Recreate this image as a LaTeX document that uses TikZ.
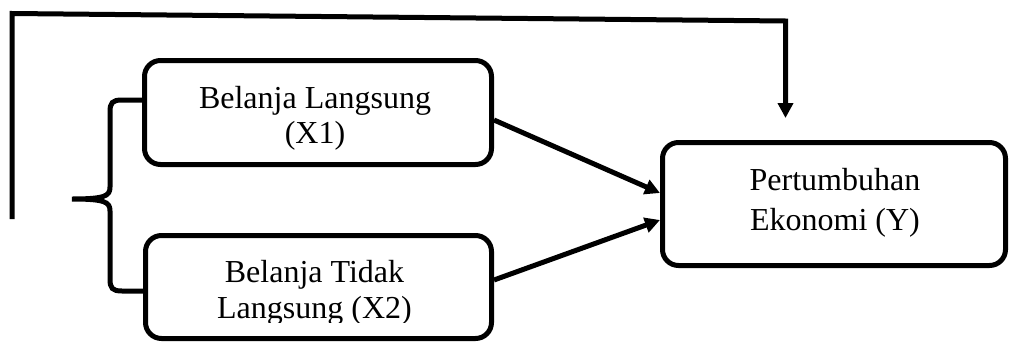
\documentclass[tikz,border=0pt]{standalone}
\usepackage{fontspec}
\setmainfont{Liberation Serif}
\usetikzlibrary{arrows.meta,calc}
\begin{document}
\begin{tikzpicture}[x=1pt,y=-1pt,
  box/.style={draw=black,line width=5pt,rounded corners=16pt,inner sep=0pt},
  txt/.style={font=\fontsize{32}{36}\selectfont,inner sep=0pt,anchor=base},
  conn/.style={line width=5pt,-{Triangle[length=15pt,width=15pt]}}]
\useasboundingbox (0,0) rectangle (1009,343);
% boxes
\node[box,minimum width=347pt,minimum height=104pt] (X1) at (318,112.5) {};
\node[box,minimum width=346pt,minimum height=103pt] (X2) at (318.5,287) {};
\node[box,minimum width=343pt,minimum height=123pt] (Y) at (834,204) {};
% texts (clipped like a text box)
\begin{scope}
\clip (150,62) rectangle (485,149);
\node[txt] (t1a) at (315,108) {Belanja Langsung};
\node[txt] (t1b) at (315,143) {(X1)};
\end{scope}
\begin{scope}
\clip (150,240) rectangle (485,322);
\node[txt] (t2a) at (314.5,282) {Belanja Tidak};
\node[txt] (t2b) at (314.5,318) {Langsung (X2)};
\end{scope}
\node[txt] (t3a) at (835,190) {Pertumbuhan};
\node[txt] (t3b) at (835,230) {Ekonomi (Y)};
% arrows into Y
\draw[conn] ($(X1.east)+(0,7.5)$) -- ($(Y.west)+(0,-11)$);
\draw[conn] ($(X2.east)+(0,-7)$) -- ($(Y.west)+(0,16)$);
% top connector
\coordinate (s) at (12,219);
\coordinate (c1) at (12,13.5);
\coordinate (c2) at (785.5,21);
\coordinate (tp) at (785.5,118);
\draw[conn,line join=miter] (s) -- (c1) -- (c2) -- (tp);
% brace
\coordinate (bt) at ($(X1.west)+(0,-12.5)$);
\coordinate (bb) at ($(X2.west)+(0,4)$);
\coordinate (tip) at (72,199);
\draw[line width=5pt] (bt) -- (122,100) .. controls (112,100) and (110,103) .. (110,112)
  -- (110,187) .. controls (110,196) and (105,199) .. (tip)
  .. controls (105,199) and (110,202) .. (110,211)
  -- (110,279) .. controls (110,288) and (112,291) .. (122,291) -- (bb);
\end{tikzpicture}
\end{document}
